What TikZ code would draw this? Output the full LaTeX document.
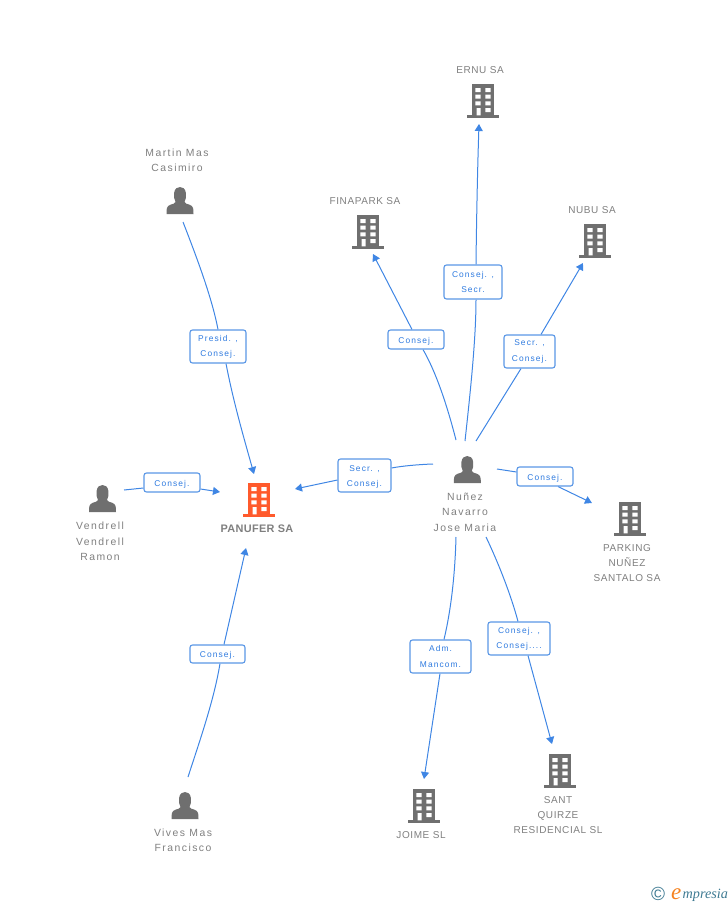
\documentclass[tikz,border=0pt]{standalone}
\usepackage{fontspec}
\setmainfont{Liberation Sans}
\newfontfamily\spaced[LetterSpace=6]{Liberation Sans}
\newfontfamily\spacedm[LetterSpace=14]{Liberation Sans}
\newfontfamily\spacedr[LetterSpace=13]{Liberation Sans}
\newfontfamily\spacedb[LetterSpace=3]{Liberation Sans Bold}
\newfontfamily\logofont{Liberation Serif Italic}
\newcommand\dn{\rule{0pt}{9pt}}
\usetikzlibrary{arrows.meta,backgrounds}
\definecolor{edgeblue}{HTML}{3F86E4}
\definecolor{boxblue}{HTML}{5A97E6}
\definecolor{inkblue}{HTML}{2F7BE0}
\definecolor{icongray}{HTML}{6F6F6F}
\definecolor{labelgray}{HTML}{7F7F7F}
\definecolor{hotorange}{HTML}{FF5A2C}
\definecolor{logoteal}{HTML}{3E7A92}
\definecolor{logoorange}{HTML}{F58220}
\tikzset{
  x=1pt,y=-1pt,
  rel/.style={boxblue,line width=1.1pt,rounded corners=2.5pt,draw,fill=white,text=inkblue,
    inner sep=0pt,align=center,font=\spacedr\fontsize{8.4}{15.3}\selectfont},
  edge/.style={edgeblue,line width=1pt},
  arr/.style={edge,-{Triangle[length=7pt,width=8pt]}},
  name label/.style={text=labelgray,align=center,inner sep=0pt,font=\spaced\fontsize{10}{15.2}\selectfont},
  mixed label/.style={name label,font=\spacedm\fontsize{10.4}{15.2}\selectfont},
  pics/tower/.style={code={
    \fill[#1] (-11.3,-34) rectangle (11.3,-1);
    \fill[#1] (-16,-3) rectangle (16,0);
    \fill[white] (-7.7,-30) rectangle (-2.3,-26) (2.3,-30) rectangle (7.7,-26)
      (-7.7,-23.3) rectangle (-2.3,-19.3) (2.3,-23.3) rectangle (7.7,-19.3)
      (-7.7,-16.7) rectangle (-2.3,-12.7) (2.3,-16.7) rectangle (7.7,-12.7)
      (2.3,-10) rectangle (7.7,-6) (-6.5,-10) rectangle (-2.3,-2.7);
  }},
  pics/person/.style={code={
    \fill[icongray] (-13.5,0) .. controls (-13.5,-5) and (-13.5,-8) .. (-9.5,-9.3)
      .. controls (-7,-10) and (-4.8,-10.5) .. (-4.5,-12)
      .. controls (-6,-14.5) and (-6.2,-17.5) .. (-5.9,-21)
      .. controls (-5.4,-25.5) and (-2.5,-27) .. (0,-27)
      .. controls (2.5,-27) and (5.4,-25.5) .. (5.9,-21)
      .. controls (6.2,-17.5) and (6,-14.5) .. (4.5,-12)
      .. controls (4.8,-10.5) and (7,-10) .. (9.5,-9.3)
      .. controls (13.5,-8) and (13.5,-5) .. (13.5,0) -- cycle;
  }}
}
\begin{document}
\begin{tikzpicture}
\useasboundingbox (0,0) rectangle (728,905);
% icons
\pic at (259,517) {tower=hotorange};
\pic at (368,249) {tower=icongray};
\pic at (483,118) {tower=icongray};
\pic at (595,258) {tower=icongray};
\pic at (630,536) {tower=icongray};
\pic at (424,823) {tower=icongray};
\pic at (560,788) {tower=icongray};
\pic at (180,214) {person};
\pic at (102.5,512) {person};
\pic at (185,819) {person};
\pic at (467.3,483) {person};
% names
\node[name label] (panufer) at (257,528.5) {\spacedb\fontsize{10.9}{13}\selectfont\color{labelgray}PANUFER SA};
\node[name label] (finapark) at (365,201) {FINAPARK SA};
\node[name label] (ernu) at (480,70) {ERNU SA};
\node[name label] (nubu) at (592,210) {NUBU SA};
\node[name label] (parking) at (627,563) {PARKING\\NUÑEZ\\SANTALO SA};
\node[name label] (joime) at (421,835) {JOIME SL};
\node[name label] (sant) at (558,815) {SANT\\QUIRZE\\RESIDENCIAL SL};
\node[mixed label] (martin) at (177,160.3) {Martin Mas\\Casimiro};
\node[mixed label] (vendrell) at (100,541.3) {Vendrell\\Vendrell\\Ramon};
\node[mixed label] (vives) at (183,840.3) {Vives Mas\\Francisco};
\node[mixed label] (nunez) at (465,512.3) {Nuñez\\Navarro\\Jose Maria};
% relation boxes
\node[rel,minimum width=56pt,minimum height=33pt] (l1) at (218,346.5) {Presid. ,\\Consej.};
\node[rel,minimum width=56pt,minimum height=19pt] (l2) at (172,482.5) {\dn Consej.};
\node[rel,minimum width=55pt,minimum height=18pt] (l3) at (217.5,654) {\dn Consej.};
\node[rel,minimum width=53pt,minimum height=33pt] (l4) at (364.5,475.5) {\dn Secr. ,\\Consej.};
\node[rel,minimum width=56pt,minimum height=19pt] (l5) at (416,339.5) {\dn Consej.};
\node[rel,minimum width=58pt,minimum height=34pt] (l6) at (473,282) {Consej. ,\\Secr.};
\node[rel,minimum width=51pt,minimum height=33pt] (l7) at (529.5,351.5) {Secr. ,\\Consej.};
\node[rel,minimum width=56pt,minimum height=19pt] (l8) at (545,476.5) {\dn Consej.};
\node[rel,minimum width=61pt,minimum height=33pt] (l9) at (440.5,656.5) {Adm.\\Mancom.};
\node[rel,minimum width=62pt,minimum height=33pt] (l10) at (519,638.5) {Consej. ,\\Consej....};
% free ends
\coordinate (s1) at (183,222); \coordinate (e1) at (254,474);
\coordinate (s2) at (124,490); \coordinate (e2) at (220,492);
\coordinate (s3) at (188,777); \coordinate (e3) at (246,548);
\coordinate (s4) at (433,464); \coordinate (e4) at (295,489);
\coordinate (s5) at (456,440); \coordinate (e5) at (373,254);
\coordinate (s6) at (465,441); \coordinate (e6) at (479,124);
\coordinate (s7) at (476,441); \coordinate (e7) at (583,263);
\coordinate (s8) at (497,469); \coordinate (e8) at (592,503);
\coordinate (s9) at (456,537); \coordinate (e9) at (424,779);
\coordinate (s10) at (486,537); \coordinate (e10) at (552,744);
% connectors
\begin{scope}[on background layer]
\draw[edge] (s1) .. controls (197,258) and (212,298) .. (l1.north);
\draw[arr] ([xshift=8pt]l1.south) .. controls (233,400) and (243,435) .. (e1);
\draw[edge] (s2) -- ([yshift=-5.5pt]l2.west);
\draw[arr] ([yshift=-6.5pt]l2.east) -- (e2);
\draw[edge] (s3) .. controls (200,740) and (214,700) .. ([xshift=2.5pt]l3.south);
\draw[arr] ([xshift=6.5pt]l3.north) -- (e3);
\draw[edge] (s4) .. controls (418,464.5) and (402,466) .. ([yshift=7.5pt]l4.east);
\draw[arr] ([yshift=-4.5pt]l4.west) -- (e4);
\draw[edge] (s5) .. controls (447,405) and (436,372) .. ([xshift=7pt]l5.south);
\draw[arr] ([xshift=-4pt]l5.north) -- (e5);
\draw[edge] (s6) .. controls (470,395) and (476,340) .. ([xshift=3pt]l6.south);
\draw[arr] ([xshift=3pt]l6.north) .. controls (476.5,220) and (477.5,170) .. (e6);
\draw[edge] (s7) -- ([xshift=-8.5pt]l7.south);
\draw[arr] ([xshift=11.5pt]l7.north) -- (e7);
\draw[edge] (s8) -- ([yshift=4.5pt]l8.west);
\draw[arr] ([xshift=13pt]l8.south) -- (e8);
\draw[edge] (s9) .. controls (455,575) and (451,610) .. ([xshift=3.5pt]l9.north);
\draw[arr] ([xshift=-0.5pt]l9.south) -- (e9);
\draw[edge] (s10) .. controls (498,562) and (511,595) .. ([xshift=-1pt]l10.north);
\draw[arr] ([xshift=9pt]l10.south) -- (e10);
\end{scope}
% logo
\node[text=logoteal,inner sep=0pt,font=\fontsize{19}{19}\selectfont] (copy) at (658,894) {©};
\node[text=logoorange,inner sep=0pt,anchor=base west,font=\logofont\fontsize{23}{23}\selectfont] (logoe) at (671,899) {e};
\node[text=logoteal,inner sep=0pt,anchor=base west,font=\logofont\fontsize{14.2}{14}\selectfont] (logot) at (682.5,898) {mpresia};
\end{tikzpicture}
\end{document}
